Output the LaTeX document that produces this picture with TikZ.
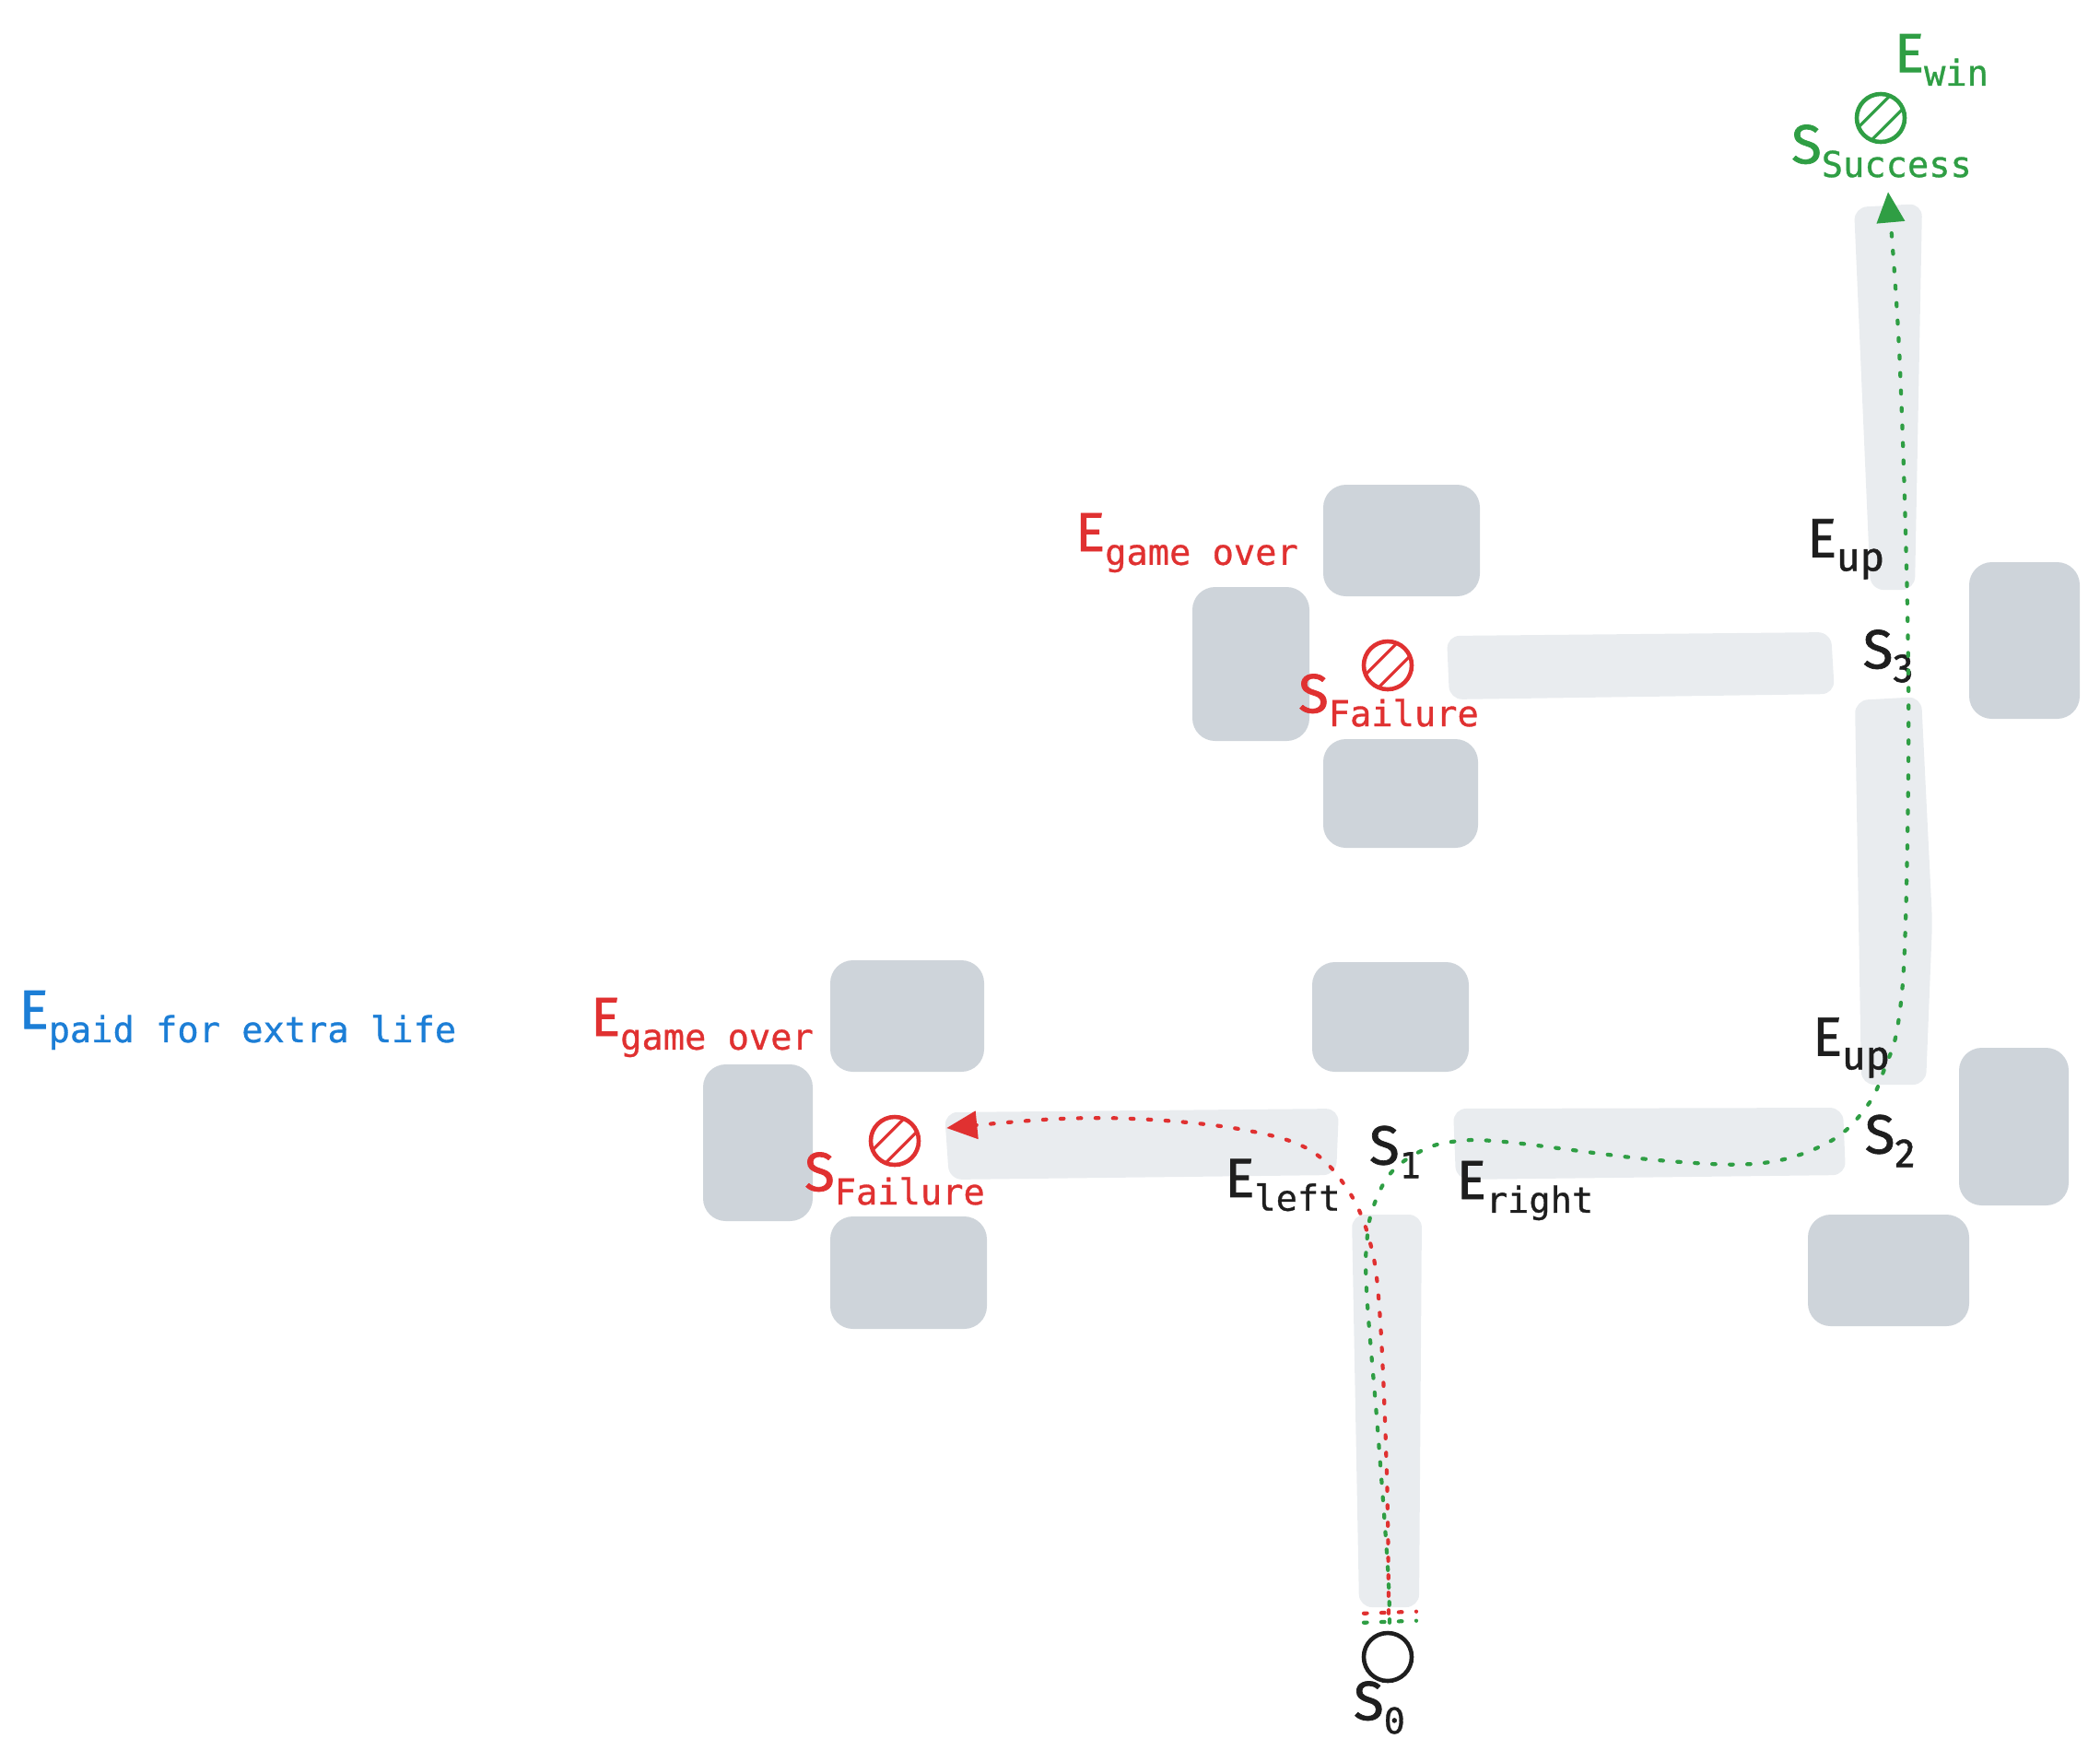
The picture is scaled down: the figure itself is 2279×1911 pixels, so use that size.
\documentclass[tikz,border=0pt]{standalone}
\usepackage{fontspec}
\setmainfont{Fira Sans}[FakeBold=1.2]
\newfontfamily\monof{DejaVu Sans Mono}[FakeBold=0.8]
\usetikzlibrary{arrows.meta, calc}
\definecolor{blockgray}{HTML}{CED4DA}
\definecolor{pathgray} {HTML}{E9ECEF}
\definecolor{exred}    {HTML}{E03131}
\definecolor{exgreen}  {HTML}{2F9E44}
\definecolor{exblue}   {HTML}{1C7ED6}
\definecolor{exink}    {HTML}{1E1E1E}
\newcommand{\lbl}[2]{#1\raisebox{-4.2pt}{\monof\fontsize{11}{13}\selectfont #2}}
\newcommand{\lbs}[2]{#1\raisebox{-4.2pt}{\fontsize{12.5}{14}\selectfont #2}}
\tikzset{
  BLK/.style={fill=blockgray, rounded corners=7pt},
  CORR/.style={fill=pathgray, rounded corners=4pt},
  LBL/.style={text=#1, font=\fontsize{17}{20}\selectfont, inner sep=0pt},
  state/.style={circle, draw=#1, line width=1.3pt, minimum size=0.52cm, inner sep=0pt},
  hatched/.style={state=#1, path picture={
    \draw[#1, line width=0.9pt] ([shift={(-9pt,-5pt)}]path picture bounding box.center) -- ++(14pt,14pt);
    \draw[#1, line width=0.9pt] ([shift={(-5pt,-9pt)}]path picture bounding box.center) -- ++(14pt,14pt);}},
  DOT/.style={draw=#1, line width=1.2pt, line cap=round, dash pattern=on 1pt off 4.4pt},
  DARR/.style={DOT=#1, -{Triangle[length=9.4pt,width=8.5pt,fill=#1]}},
}
\begin{document}
\begin{tikzpicture}[x=0.01cm, y=0.01cm]
  \useasboundingbox (0,0) rectangle (2279,-1911);
  % walls
  \foreach \xa/\ya/\xb/\yb in {
      1436/526/1606/647, 1294/637/1421/804, 1436/802/1604/920,
      2137/610/2257/780, 901/1042/1068/1163, 763/1155/882/1325,
      901/1320/1071/1442, 1424/1044/1594/1163, 2126/1137/2245/1308,
      1962/1318/2137/1439}{
    \fill[BLK] (\xa,-\ya) rectangle (\xb,-\yb);}
  % corridors
  \fill[CORR] (1467,-1318) -- (1543,-1318) -- (1540,-1744) -- (1475,-1744) -- cycle;
  \fill[CORR] (1025,-1207) -- (1453,-1203) -- (1450,-1275) -- (1030,-1280) -- cycle;
  \fill[CORR] (1577,-1203) -- (2000,-1202) -- (2003,-1275) -- (1580,-1280) -- cycle;
  \fill[CORR] (2013,-760) -- (2085,-756) -- (2097,-1000) -- (2090,-1177) -- (2020,-1177) -- cycle;
  \fill[CORR] (1570,-690) -- (1987,-686) -- (1991,-753) -- (1573,-759) -- cycle;
  \fill[CORR] (2012,-225) -- (2086,-221) -- (2078,-640) -- (2030,-640) -- cycle;
  % states
  \node[state=exink] (s0) at (1506,-1798) {};
  \node[hatched=exred] (flow) at (971,-1238) {};
  \node[hatched=exred] (ftop) at (1506,-722) {};
  \node[hatched=exgreen] (succ) at (2041,-128) {};
  % labels
  \node[LBL=exink] (ls0) at (1497,-1853) {\lbl{S}{0}};
  \node[LBL=exink] (ls1) at (1514,-1250) {\lbl{S}{1}};
  \node[LBL=exink] (ls2) at (2051,-1238) {\lbs{S}{2}};
  \node[LBL=exink] (ls3) at (2049,-712) {\lbs{S}{3}};
  \node[LBL=exink] (eleft) at (1392,-1286) {\lbl{E}{left}};
  \node[LBL=exink] (eright) at (1655,-1292) {\lbl{E}{right}};
  \node[LBL=exink] (eupl) at (2009,-1137) {\lbs{E}{up}};
  \node[LBL=exink] (eupu) at (2003,-596) {\lbs{E}{up}};
  \node[LBL=exred] (sflow) at (971,-1279) {\lbl{S}{Failure}};
  \node[LBL=exred] (sftop) at (1507,-760) {\lbl{S}{Failure}};
  \node[LBL=exred] (eglow) at (762,-1115) {\lbl{E}{game over}};
  \node[LBL=exred] (egtop) at (1288,-589) {\lbl{E}{game over}};
  \node[LBL=exgreen] (ssucc) at (2042,-164) {\lbl{S}{Success}};
  \node[LBL=exgreen] (ewin) at (2107,-65) {\lbl{E}{win}};
  \node[LBL=exblue, anchor=west] (epaid) at (20,-1107) {\lbl{E}{paid for extra life}};
  % routes
  \draw[DOT=exred] ($(s0.north)+(-26,19)$) -- ++(57,2);
  \draw[DOT=exgreen] ($(s0.north)+(-26,9)$) -- ++(57,2);
  \coordinate (rstart) at ($(s0.north)+(1,19)$);
  \coordinate (rend) at ($(flow.east)+(28,14)$);
  \coordinate (gstart) at ($(s0.north)+(2,9)$);
  \coordinate (gend) at ($(succ.south)+(8,-52)$);
  \draw[DARR=exred] plot[smooth, tension=0.6] coordinates {(rstart) (1505,-1600)
    (1497,-1420) (1486,-1345) (1462,-1290) (1420,-1247) (1350,-1226)
    (1250,-1215) (1150,-1214) (rend)};
  \draw[DARR=exgreen] plot[smooth, tension=0.6] coordinates {(gstart) (1506,-1700)
    (1495,-1550) (1483,-1400) (1484,-1340) (1492,-1305) (1510,-1272)
    (1540,-1250) (1575,-1239) (1633,-1239) (1800,-1259) (1913,-1262)
    (1987,-1238) (2027,-1199) (2045,-1160) (2060,-1110) (2068,-1000)
    (2071,-727) (2062,-400) (gend)};
\end{tikzpicture}
\end{document}
